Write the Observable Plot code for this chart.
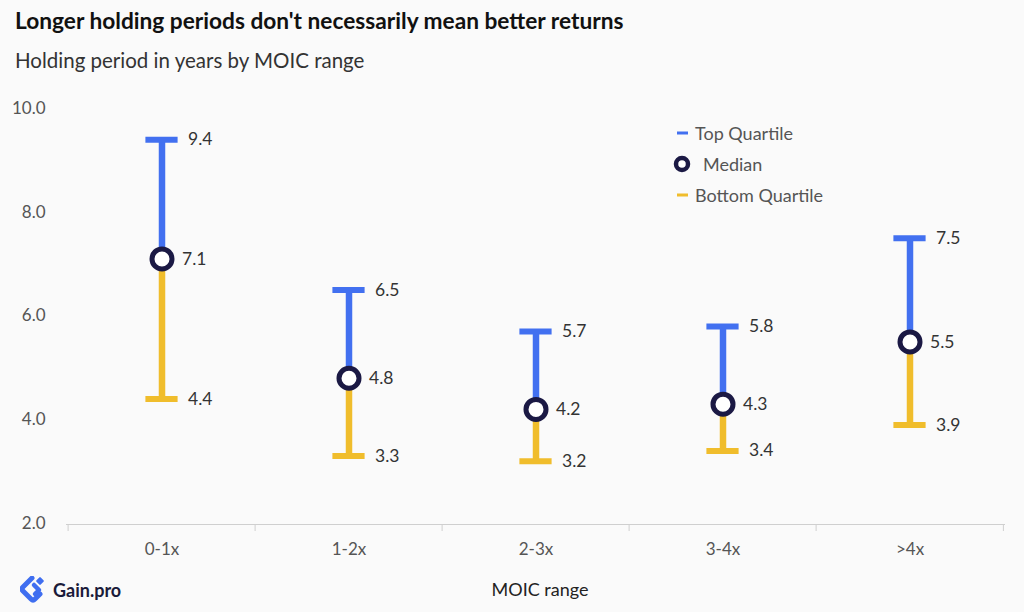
<!DOCTYPE html>
<html>
<head>
<meta charset="utf-8">
<script src="https://cdn.jsdelivr.net/npm/d3@7"></script>
<script src="https://cdn.jsdelivr.net/npm/@observablehq/plot@0.6"></script>
<style>
  html, body { margin: 0; padding: 0; background: #fafafa; }
  body { width: 1024px; height: 612px; position: relative; overflow: hidden; font-family: Lato, "Noto Sans", sans-serif; }
  #title { position: absolute; left: 15px; top: 7px; font-size: 22.7px; font-weight: 700; color: #111; white-space: nowrap; }
  #subtitle { position: absolute; left: 15px; top: 48px; font-size: 20.5px; color: #333; white-space: nowrap; }
  #chart { position: absolute; left: 0; top: 90px; }
  #xlabel { position: absolute; left: 540px; top: 578px; transform: translateX(-50%); font-size: 18px; color: #222; white-space: nowrap; }
  #legend { position: absolute; left: 667px; top: 120px; font-size: 18px; color: #555; }
  .li { position: absolute; left: 0; white-space: nowrap; display: flex; align-items: center; height: 26px; }
  .li svg { margin-right: 6px; }
  #logo { position: absolute; left: 20px; top: 576px; display: flex; align-items: center; }
  #logo span { font-size: 18px; font-weight: 700; color: #1b1b3a; margin-left: 7px; }
</style>
</head>
<body>
<div id="title">Longer holding periods don't necessarily mean better returns</div>
<div id="subtitle">Holding period in years by MOIC range</div>
<div id="chart"></div>
<div id="legend">
  <div class="li" style="top:0px"><svg width="22" height="10"><line x1="10" x2="21" y1="5" y2="5" stroke="#4270f0" stroke-width="3"/></svg>Top Quartile</div>
  <div class="li" style="top:31px"><svg width="30" height="20"><circle cx="15" cy="10" r="6" fill="#fff" stroke="#1b1944" stroke-width="4.5"/></svg>Median</div>
  <div class="li" style="top:62px"><svg width="22" height="10"><line x1="10" x2="21" y1="5" y2="5" stroke="#f0bd2c" stroke-width="3"/></svg>Bottom Quartile</div>
</div>
<div id="xlabel">MOIC range</div>
<div id="logo">
  <svg width="26" height="28" viewBox="0 0 26 28">
    <path d="M12 2 L3 11 Q1 13 3 15 L11 23 Q13 25 15 23 L20 18" fill="none" stroke="#3f6ef0" stroke-width="5" stroke-linejoin="round" stroke-linecap="round"/>
    <path d="M14 9 L19 14 L15 18" fill="none" stroke="#3f6ef0" stroke-width="4.5" stroke-linejoin="round" stroke-linecap="round"/>
    <rect x="17" y="2" width="6" height="6" transform="rotate(45 20 5)" fill="#3f6ef0" rx="1"/>
  </svg>
  <span>Gain.pro</span>
</div>
<script>
const categories = ["0-1x", "1-2x", "2-3x", "3-4x", ">4x"];
const topQuartile = [9.4, 6.5, 5.7, 5.8, 7.5];
const median = [7.1, 4.8, 4.2, 4.3, 5.5];
const bottomQuartile = [4.4, 3.3, 3.2, 3.4, 3.9];
const yTicks = [2, 4, 6, 8, 10];

const data = categories.map((c, i) => ({
  cat: c, top: topQuartile[i], med: median[i], bot: bottomQuartile[i]
}));

const W = 1024, H = 522, ML = 66, MR = 19;
const bw = (W - ML - MR) / categories.length;
const capW = 33;
const blue = "#4270f0", yellow = "#f0bd2c", navy = "#1b1944";

const chart = Plot.plot({
  width: W,
  height: H,
  marginLeft: ML,
  marginRight: MR,
  marginTop: 18,
  marginBottom: 89,
  style: { background: "transparent", fontFamily: "Lato, 'Noto Sans', sans-serif", fontSize: "17px" },
  x: { type: "band", domain: categories, padding: 0 },
  y: { domain: [2, 10] },
  marks: [
    Plot.axisY({ ticks: yTicks, tickFormat: d3.format(".1f"), tickSize: 0, tickPadding: 21, label: null, color: "#555", fontSize: 17 }),
    Plot.axisX({ tickSize: 0, tickPadding: 19, label: null, color: "#555", fontSize: 17 }),
    Plot.ruleY([2], { stroke: "#cfcfcf", strokeWidth: 1, dy: 1 }),
    Plot.ruleX(categories, { x: d => d, y1: 2, y2: 2, dx: -bw / 2, dy: 1, insetBottom: -7, stroke: "#cfcfcf" }),
    Plot.ruleX([categories[categories.length - 1]], { x: d => d, y1: 2, y2: 2, dx: bw / 2 - 0.5, dy: 1, insetBottom: -7, stroke: "#cfcfcf" }),
    Plot.ruleX(data, { x: "cat", y1: "bot", y2: "med", stroke: yellow, strokeWidth: 6.5 }),
    Plot.ruleX(data, { x: "cat", y1: "med", y2: "top", stroke: blue, strokeWidth: 6.5 }),
    Plot.tickY(data, { x: "cat", y: "top", stroke: blue, strokeWidth: 6, insetLeft: (bw - capW) / 2, insetRight: (bw - capW) / 2 }),
    Plot.tickY(data, { x: "cat", y: "bot", stroke: yellow, strokeWidth: 6, insetLeft: (bw - capW) / 2, insetRight: (bw - capW) / 2 }),
    Plot.dot(data, { x: "cat", y: "med", r: 10, fill: "#fff", stroke: navy, strokeWidth: 5 }),
    Plot.text(data, { x: "cat", y: "top", text: d => d3.format(".1f")(d.top), dx: 26, textAnchor: "start", fill: "#333", fontSize: 17.5 }),
    Plot.text(data, { x: "cat", y: "bot", text: d => d3.format(".1f")(d.bot), dx: 26, textAnchor: "start", fill: "#333", fontSize: 17.5 }),
    Plot.text(data, { x: "cat", y: "med", text: d => d3.format(".1f")(d.med), dx: 20, textAnchor: "start", fill: "#333", fontSize: 17.5 })
  ]
});
document.getElementById("chart").appendChild(chart);
</script>
</body>
</html>
